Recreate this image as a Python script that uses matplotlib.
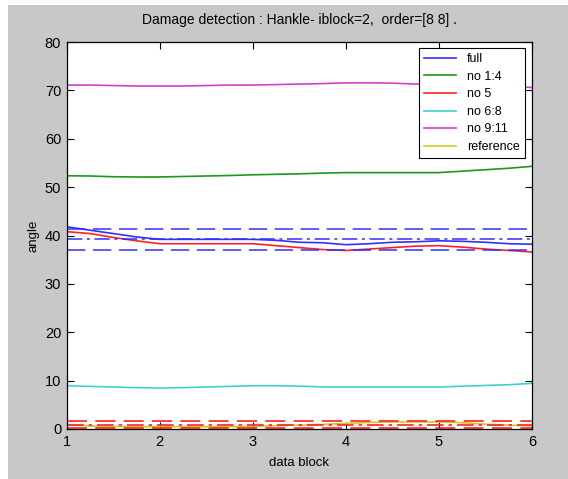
import matplotlib
matplotlib.use("Agg")
import matplotlib.pyplot as plt
from matplotlib.patches import Rectangle

plt.rcParams['font.family'] = ['Liberation Sans', 'DejaVu Sans']

# ---- data ----
data_block = [1, 1.25, 1.5, 1.75, 2, 2.25, 2.5, 2.75, 3, 3.25, 3.5, 3.75,
              4, 4.25, 4.5, 4.75, 5, 5.25, 5.5, 5.75, 6]
full = [41.8, 41.1, 40.4, 39.7, 39.2, 39.2, 39.2, 39.2, 39.2, 39.0, 38.6, 38.5,
        38.1, 38.3, 38.6, 38.7, 38.9, 38.8, 38.6, 38.3, 38.2]
no_1_4 = [52.35, 52.3, 52.15, 52.1, 52.1, 52.2, 52.3, 52.4, 52.55, 52.65, 52.75, 52.9,
          53.0, 53.0, 53.0, 53.0, 53.0, 53.3, 53.6, 53.9, 54.3]
no_5 = [40.8, 40.4, 39.6, 38.9, 38.3, 38.3, 38.3, 38.3, 38.3, 37.9, 37.5, 37.1,
        36.9, 37.2, 37.5, 37.8, 37.9, 37.6, 37.2, 36.9, 36.6]
no_6_8 = [8.95, 8.8, 8.68, 8.55, 8.47, 8.55, 8.68, 8.8, 8.95, 8.95, 8.85, 8.7,
          8.68, 8.68, 8.68, 8.68, 8.68, 8.85, 9.0, 9.15, 9.44]
no_9_11 = [71.1, 71.1, 71.0, 70.9, 70.9, 70.9, 71.0, 71.1, 71.1, 71.2, 71.3, 71.4,
           71.55, 71.55, 71.5, 71.3, 71.2, 71.0, 70.9, 70.8, 70.6]
reference = [0.9, 0.6, 0.5, 0.48, 0.48, 0.48, 0.48, 0.48, 0.5, 0.7, 0.8, 0.95,
             1.15, 1.35, 1.45, 1.45, 1.45, 1.3, 1.0, 0.8, 0.65]
series_labels = ['full', 'no 1:4', 'no 5', 'no 6:8', 'no 9:11', 'reference']

# thresholds (upper / mean / lower)
full_limits = [41.3, 39.2, 37.05]
ref_limits = [1.65, 0.9, 0.2]

x_ticks = [1, 2, 3, 4, 5, 6]
y_ticks = [0, 10, 20, 30, 40, 50, 60, 70, 80]

colors = ['#3030ff', '#1a9a1a', '#ff2020', '#40d0d0', '#d040d0', '#cccc20']

# ---- figure ----
fig = plt.figure(figsize=(5.68, 4.79), dpi=100, facecolor='white')
fig.patches.append(Rectangle((8/568, 0), 1, 1 - 5/479,
                             transform=fig.transFigure, facecolor='#c8c8c8',
                             edgecolor='none', zorder=-10))
ax = fig.add_axes([66.7/568, 50/479, (532-66.7)/568, (429-42)/479])
ax.set_facecolor('white')

series = [full, no_1_4, no_5, no_6_8, no_9_11, reference]
for s, lab, c in zip(series, series_labels, colors):
    ax.plot(data_block, s, color=c, lw=1.2, label=lab)

dash = (12, 5)
dashdot = (10, 3, 2, 3)
for lim, d in zip(full_limits, [dash, dashdot, dash]):
    ax.axhline(lim, color=colors[0], lw=1.1, dashes=d)
for lim, d in zip(ref_limits, [dash, dashdot, dash]):
    ax.axhline(lim, color=colors[2], lw=1.2, dashes=d)

ax.set_xlim(1, 6)
ax.set_ylim(0, 80)
ax.set_xticks(x_ticks)
ax.set_yticks(y_ticks)
ax.tick_params(direction='in', length=5, width=0.8, top=True, right=True,
               labelsize=10.5, pad=4)
for sp in ax.spines.values():
    sp.set_linewidth(0.9)

ax.set_title('Damage detection : Hankle- iblock=2,  order=[8 8] .', fontsize=10, pad=13)
ax.set_xlabel('data block', fontsize=9.5, labelpad=6)
ax.set_ylabel('angle', fontsize=9.5, labelpad=4)

leg = ax.legend(loc='upper right', bbox_to_anchor=(1 - 7/465.3, 1 - 6/387),
                fontsize=9, fancybox=False, framealpha=1, edgecolor='black',
                handlelength=2.6, labelspacing=0.45, borderaxespad=0,
                handletextpad=0.9, borderpad=0.4)
leg.get_frame().set_linewidth(0.8)

fig.savefig('out.png', dpi=100, facecolor=fig.get_facecolor())
